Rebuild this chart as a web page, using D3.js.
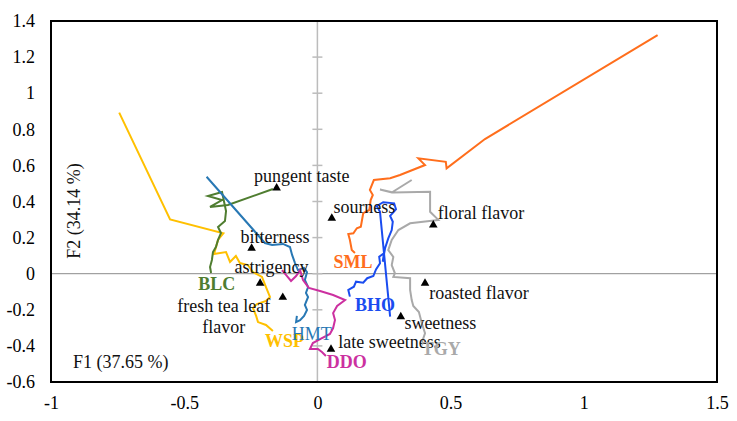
<!DOCTYPE html>
<html>
<head>
<meta charset="utf-8">
<script src="https://cdn.jsdelivr.net/npm/d3@7"></script>
<style>
  body { margin: 0; background: #fff; }
  text { font-family: "Liberation Serif", "Times New Roman", serif; }
</style>
</head>
<body>
<div id="chart"></div>
<script>
// tick values
var xTicks = [-1, -0.5, 0, 0.5, 1, 1.5];
var yTicks = [-0.6, -0.4, -0.2, 0, 0.2, 0.4, 0.6, 0.8, 1, 1.2, 1.4];

// sample trajectories (F1, F2)
var seriesNames = ["SML", "BHO", "TGY", "WSP", "BLC", "HMT", "DDO"];

var smlPath = [[1.277, 1.322], [0.629, 0.746], [0.485, 0.584], [0.482, 0.620], [0.379, 0.639],
    [0.404, 0.602], [0.310, 0.547], [0.273, 0.529], [0.212, 0.519], [0.197, 0.464], [0.208, 0.436],
    [0.200, 0.408], [0.195, 0.353], [0.172, 0.335], [0.163, 0.260], [0.148, 0.252], [0.135, 0.224],
    [0.116, 0.220], [0.122, 0.187], [0.129, 0.131], [0.141, 0.115]];

var bhoPath = [[0.122, -0.127], [0.116, -0.090], [0.137, -0.072], [0.145, -0.044], [0.172, -0.050],
    [0.187, -0.025], [0.210, -0.013], [0.220, 0.024], [0.235, 0.058], [0.232, 0.094], [0.250, 0.113],
    [0.245, 0.066], [0.254, 0.141], [0.266, 0.196], [0.279, 0.242], [0.283, 0.288], [0.273, 0.320],
    [0.295, 0.357], [0.288, 0.390], [0.247, 0.396], [0.223, 0.375], [0.235, 0.343], [0.273, -0.238]];

var tgyPath = [[0.354, 0.519], [0.279, 0.450], [0.235, 0.466], [0.284, 0.450], [0.423, 0.454],
    [0.423, 0.343], [0.454, 0.298], [0.348, 0.279], [0.304, 0.242], [0.279, 0.187], [0.266, 0.131],
    [0.285, 0.093], [0.279, 0.048], [0.291, 0.002], [0.285, -0.018], [0.348, -0.025], [0.348, -0.090],
    [0.354, -0.146], [0.360, -0.179], [0.381, -0.212], [0.392, -0.275], [0.404, -0.330], [0.393, -0.378]];

var wspPath = [[-0.744, 0.892], [-0.553, 0.301], [-0.353, 0.224], [-0.373, 0.187], [-0.388, 0.109],
    [-0.343, 0.120], [-0.328, 0.065], [-0.306, 0.098], [-0.291, 0.059], [-0.261, 0.048], [-0.242, 0.009],
    [-0.208, -0.018], [-0.193, -0.074], [-0.178, -0.129], [-0.193, -0.151], [-0.227, -0.168],
    [-0.242, -0.190], [-0.230, -0.234], [-0.223, -0.268], [-0.193, -0.284], [-0.167, -0.317]];

var blcPath = [[-0.167, 0.469], [-0.336, 0.381], [-0.403, 0.370], [-0.358, 0.408], [-0.411, 0.430],
    [-0.358, 0.453], [-0.343, 0.347], [-0.347, 0.292], [-0.373, 0.259], [-0.362, 0.225], [-0.373, 0.187],
    [-0.381, 0.148], [-0.392, 0.120], [-0.396, 0.076], [-0.403, 0.037], [-0.399, 0.004]];

var hmtPath = [[-0.416, 0.537], [-0.197, 0.170], [-0.170, 0.159], [-0.129, 0.165], [-0.103, 0.148],
    [-0.095, 0.104], [-0.084, 0.059], [-0.073, 0.020], [-0.050, 0.032], [-0.039, 0.009], [-0.047, -0.035],
    [-0.035, -0.074], [-0.043, -0.107], [-0.035, -0.129], [-0.047, -0.173], [-0.039, -0.201],
    [-0.050, -0.234], [-0.065, -0.257], [-0.080, -0.268], [-0.077, -0.234]];

var ddoPath = [[-0.133, 0.020], [-0.114, -0.013], [-0.099, -0.040], [-0.080, -0.013], [-0.065, 0.020],
    [-0.054, -0.035], [-0.032, -0.079], [0.010, -0.096], [0.059, -0.118], [0.104, -0.146], [0.074, -0.179],
    [0.059, -0.218], [0.066, -0.257], [0.059, -0.301], [0.047, -0.334], [0.010, -0.362], [-0.017, -0.384],
    [-0.028, -0.417], [0.002, -0.417], [0.017, -0.434], [0.032, -0.456]];

// sensory attributes
var attributes = ["pungent taste", "sourness", "floral flavor", "bitterness", "astrigency",
    "fresh tea leaf flavor", "roasted flavor", "sweetness", "late sweetness"];
var attrF1 = [-0.153, 0.054, 0.435, -0.247, -0.215, -0.130, 0.404, 0.313, 0.051];
var attrF2 = [0.475, 0.307, 0.270, 0.141, -0.053, -0.131, -0.053, -0.238, -0.419];

var margin = { top: 21, left: 51, bottom: 39, right: 20 };
var width = 737 - margin.left - margin.right;
var height = 421 - margin.top - margin.bottom;

var svg = d3.select("#chart").append("svg")
    .attr("width", 737)
    .attr("height", 421)
    .append("g")
    .attr("transform", "translate(" + margin.left + "," + margin.top + ")");

var x = d3.scaleLinear().domain([-1, 1.5]).range([0, width]);
var y = d3.scaleLinear().domain([-0.6, 1.4]).range([height, 0]);

var fmt = function (d) { return String(+d.toFixed(1)); };

// axes (labels only)
var xAxis = d3.axisBottom(x).tickValues(xTicks).tickSize(0).tickPadding(14).tickFormat(fmt);
svg.append("g")
    .attr("class", "x_axis")
    .attr("transform", "translate(0," + height + ")")
    .call(xAxis);

var yAxis = d3.axisLeft(y).tickValues(yTicks).tickSize(0).tickPadding(16).tickFormat(fmt);
svg.append("g")
    .attr("class", "y_axis")
    .call(yAxis);

svg.selectAll(".x_axis, .y_axis").select(".domain").remove();
svg.selectAll(".x_axis text, .y_axis text")
    .style("font-family", '"Liberation Serif", serif')
    .style("font-size", "18px")
    .attr("fill", "#000");

// zero lines
svg.append("line")
    .attr("x1", 0).attr("x2", width)
    .attr("y1", y(0)).attr("y2", y(0))
    .attr("stroke", "#8c8c8c").attr("stroke-width", 1);

svg.append("line")
    .attr("x1", x(0)).attr("x2", x(0))
    .attr("y1", 0).attr("y2", height)
    .attr("stroke", "#bcbcbc").attr("stroke-width", 1.5);

svg.selectAll(".vtick")
    .data(yTicks)
    .enter().append("line")
    .attr("class", "vtick")
    .attr("x1", x(0) - 5).attr("x2", x(0) + 5)
    .attr("y1", function (d) { return y(d); })
    .attr("y2", function (d) { return y(d); })
    .attr("stroke", "#bcbcbc").attr("stroke-width", 1.5);

// trajectories
var paths = [smlPath, bhoPath, tgyPath, wspPath, blcPath, hmtPath, ddoPath];
var colors = ["#ff6e1c", "#1a4cf0", "#a9a9a9", "#ffc000", "#4f7d30", "#2878b4", "#cc30a0"];

var line = d3.line()
    .x(function (d) { return x(d[0]); })
    .y(function (d) { return y(d[1]); });

svg.selectAll(".traj")
    .data(paths)
    .enter().append("path")
    .attr("class", "traj")
    .attr("d", line)
    .attr("fill", "none")
    .attr("stroke", function (d, i) { return colors[i]; })
    .attr("stroke-width", 2)
    .attr("stroke-linejoin", "miter");

// attribute markers
svg.selectAll(".tri")
    .data(attributes)
    .enter().append("path")
    .attr("class", "tri")
    .attr("d", d3.symbol().type(d3.symbolTriangle).size(32))
    .attr("transform", function (d, i) {
        return "translate(" + x(attrF1[i]) + "," + y(attrF2[i]) + ")";
    })
    .attr("fill", "#000");

// label offsets from marker (px)
var attrDx = [-22.7, 1.6, 4.4, -11, -25.7, -59, 4.3, 3.6, 7.3];
var attrDy = [-5.5, -5, -6, -5, -10.6, 14.4, 15.7, 12.6, -1];

svg.selectAll(".attr")
    .data(attributes)
    .enter().append("text")
    .attr("class", "attr")
    .attr("x", function (d, i) { return x(attrF1[i]) + attrDx[i]; })
    .attr("y", function (d, i) { return y(attrF2[i]) + attrDy[i]; })
    .attr("text-anchor", function (d) { return d === "fresh tea leaf flavor" ? "middle" : "start"; })
    .style("font-size", "18px")
    .attr("fill", "#111")
    .each(function (d) {
        var t = d3.select(this);
        if (d === "fresh tea leaf flavor") {
            var x0 = t.attr("x");
            t.append("tspan").attr("x", x0).text("fresh tea leaf");
            t.append("tspan").attr("x", x0).attr("dy", 21.6).text("flavor");
        } else {
            t.text(d);
        }
    });

// series labels, placed in data units
var labelF1 = [0.060, 0.141, 0.392, -0.197, -0.447, -0.096, 0.035];
var labelF2 = [0.030, -0.205, -0.450, -0.404, -0.090, -0.367, -0.524];

svg.selectAll(".slabel")
    .data(seriesNames)
    .enter().append("text")
    .attr("class", "slabel")
    .attr("x", function (d, i) { return x(labelF1[i]); })
    .attr("y", function (d, i) { return y(labelF2[i]); })
    .attr("fill", function (d, i) { return colors[i]; })
    .style("font-size", "18px")
    .style("font-weight", function (d) { return d === "HMT" ? "normal" : "bold"; })
    .text(function (d) { return d; });

// axis titles
svg.append("text")
    .text("F1 (37.65 %)")
    .attr("x", 22)
    .attr("y", 347)
    .style("font-size", "18px")
    .attr("fill", "#111");

svg.append("text")
    .text("F2 (34.14 %)")
    .attr("transform", "translate(29,190) rotate(-90)")
    .attr("text-anchor", "middle")
    .style("font-size", "18px")
    .attr("fill", "#111");

// plot border
svg.append("rect")
    .attr("x", 0).attr("y", 0)
    .attr("width", width).attr("height", height)
    .attr("fill", "none")
    .attr("stroke", "#000")
    .attr("stroke-width", 2);
</script>
</body>
</html>
